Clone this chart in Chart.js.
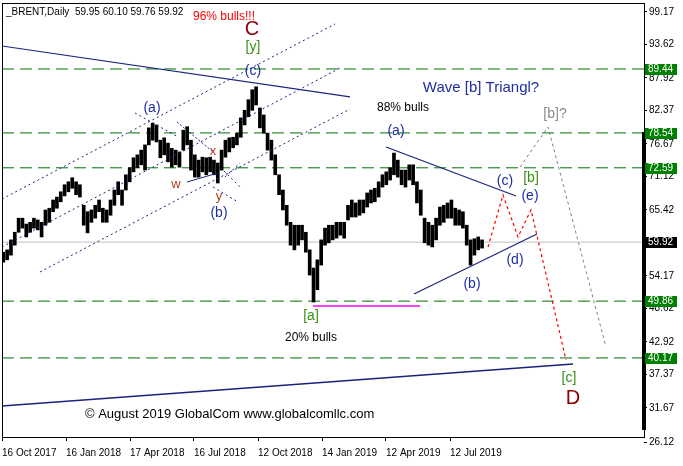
<!DOCTYPE html>
<html>
<head>
<meta charset="utf-8">
<script src="https://cdn.jsdelivr.net/npm/chart.js@4.4.0/dist/chart.umd.min.js"></script>
<style>
  html, body { margin: 0; padding: 0; background: #fff; }
  #wrap { width: 683px; height: 466px; }
</style>
</head>
<body>
<div id="wrap"><canvas id="brent" width="683" height="466"></canvas></div>
<script>
// axis
const dateTicks = [0, 64, 128, 192, 256, 320, 384, 448];
const dateLabels = ['16 Oct 2017', '16 Jan 2018', '17 Apr 2018', '16 Jul 2018', '12 Oct 2018', '14 Jan 2019', '12 Apr 2019', '12 Jul 2019'];
const priceTicks = [99.17, 93.62, 87.92, 82.37, 76.67, 71.12, 65.42, 54.17, 48.62, 42.92, 37.37, 31.67];
const levels = [89.44, 78.54, 72.59, 49.86, 40.17];
const lastPrice = 59.92;
const header = '_BRENT,Daily  59.95 60.10 59.76 59.92';

// price ranges, one sample every ~4 trading days
const firstDay = 1.3, dayStep = 3.83;
const highs = [58.2, 58.6, 60.3, 61.6, 64.0, 64.0, 63.0, 63.3, 64.0, 63.7,
  63.3, 65.4, 65.7, 67.1, 67.6, 68.5, 69.7, 70.2, 70.9, 70.2,
  69.7, 66.2, 65.1, 65.4, 66.2, 67.1, 65.7, 65.4, 67.1, 68.8,
  70.2, 68.8, 71.4, 72.6, 74.3, 74.8, 75.6, 76.5, 79.4, 80.2,
  79.9, 77.3, 77.7, 76.8, 75.9, 75.6, 75.3, 79.0, 79.6, 77.3,
  74.8, 73.9, 74.4, 74.3, 74.4, 73.9, 73.4, 75.6, 77.3, 77.7,
  77.8, 78.5, 81.1, 82.4, 84.2, 85.9, 86.4, 82.8, 81.6, 78.5,
  77.3, 74.8, 71.4, 68.8, 66.2, 63.3, 62.8, 62.8, 62.8, 61.6,
  58.6, 55.5, 56.9, 60.3, 62.3, 62.8, 62.8, 63.3, 63.3, 63.3,
  66.2, 67.1, 66.6, 67.1, 67.1, 68.3, 68.8, 69.1, 70.2, 71.4,
  71.9, 72.6, 75.1, 73.9, 72.2, 72.2, 73.1, 73.1, 70.2, 68.8,
  64.0, 63.3, 62.8, 64.0, 65.9, 66.2, 66.6, 67.1, 65.7, 65.4,
  65.1, 62.8, 60.3, 60.5, 60.8, 60.3];
const lows = [56.5, 56.9, 57.7, 59.4, 61.6, 62.3, 60.8, 61.6, 62.3, 62.0,
  60.8, 62.8, 63.3, 65.1, 65.7, 66.8, 67.8, 68.5, 69.1, 68.0,
  67.6, 62.8, 61.5, 63.3, 64.0, 65.1, 63.3, 63.3, 64.5, 66.2,
  68.0, 66.2, 68.8, 70.2, 71.9, 72.6, 73.1, 72.2, 76.5, 77.3,
  77.0, 74.3, 74.8, 73.6, 72.7, 73.1, 72.7, 75.6, 76.5, 72.2,
  71.0, 71.0, 71.9, 71.4, 71.9, 71.4, 70.0, 72.2, 74.4, 75.3,
  76.0, 76.5, 77.8, 79.9, 81.3, 82.4, 83.3, 79.4, 78.5, 75.6,
  73.9, 71.4, 68.0, 65.4, 62.8, 59.4, 58.6, 59.4, 60.3, 58.2,
  54.3, 49.7, 51.8, 56.0, 59.4, 59.8, 60.3, 60.6, 61.1, 60.6,
  63.7, 64.2, 64.2, 64.5, 64.9, 65.9, 66.6, 66.8, 67.6, 69.3,
  69.7, 70.5, 71.4, 71.0, 69.7, 69.3, 70.5, 69.7, 66.6, 64.5,
  59.8, 59.4, 59.1, 60.3, 62.8, 63.3, 64.0, 64.0, 62.8, 62.8,
  62.3, 59.4, 56.0, 57.7, 58.6, 58.9];

// hand-drawn wave lines, points as [day, price]
const trendTop = [[0, 93.36], [348, 84.67]];
const triUpper = [[384, 76.14], [514, 67.79]];
const triLower = [[412, 51.08], [535, 61.31]];
const trendLow = [[0, 31.98], [571, 39.14]];
const chanA = [[0, 67.27], [333, 97.11]];
const chanB = [[0, 59.09], [340, 89.78]];
const chanC = [[38, 54.83], [348, 82.62]];
const fanA = [[133, 81.94], [176, 77.85]];
const fanB1 = [[208, 74.43], [238, 69.32]];
const fanB2 = [[211, 69.32], [236, 66.76]];
const fanB3 = [[223, 71.03], [238, 73.41]];
const wyLine = [[185, 70.17], [216, 71.71]];
const xLine = [[175, 80.4], [211, 75.29]];
const redPath = [[486, 59.09], [501, 67.96], [516, 60.80], [529, 65.40], [564, 39.83]];
const greyPath = [[518, 72.73], [546, 79.55], [604, 42.04]];
const magenta = [[311, 49.03], [418, 49.03]];
const scaleBar = [[642, 78.7], [642, 27.9]];

const NAVY = '#1f2f9f';
const GREEN = '#3a8f17';
const notes = [
  ['96% bulls!!!', 222, 98.30, '#ff0000', 12],
  ['C', 250, 96.09, '#8b0000', 20],
  ['[y]', 251, 93.19, GREEN, 14],
  ['(c)', 251, 89.10, NAVY, 14],
  ['(a)', 150, 82.79, NAVY, 14],
  ['x', 211, 75.46, '#c0392b', 13],
  ['w', 174, 69.83, '#b0402a', 13],
  ['y', 217, 67.79, '#b0402a', 13],
  ['(b)', 217, 64.89, NAVY, 14],
  ['Wave [b] Triangl?', 479, 86.20, NAVY, 15],
  ['88% bulls', 401, 82.79, '#000', 12],
  ['(a)', 394, 78.87, NAVY, 14],
  ['(c)', 503, 70.34, NAVY, 14],
  ['[b]', 529, 70.86, GREEN, 14],
  ['(e)', 528, 67.79, NAVY, 14],
  ['(d)', 513, 56.87, NAVY, 14],
  ['(b)', 470, 52.78, NAVY, 14],
  ['[b]?', 553, 81.77, '#8c8c8c', 14],
  ['[a]', 309, 47.33, GREEN, 14],
  ['20% bulls', 309, 43.58, '#000', 12],
  ['[c]', 567, 36.76, GREEN, 14],
  ['D', 571, 33.18, '#8b0000', 20]
];
const credit = ['\u00A9 August 2019 GlobalCom www.globalcomllc.com', 83, 30.62];

const FONT = '"Liberation Sans", Arial, sans-serif';

function line(pts, color, width, dash, order) {
  return {
    type: 'line',
    data: pts.map(p => ({x: p[0], y: p[1]})),
    borderColor: color,
    borderWidth: width,
    borderDash: dash || [],
    pointRadius: 0,
    fill: false,
    tension: 0,
    order: order || 1
  };
}

const datasets = [];
datasets.push({
  type: 'bar',
  data: highs.map((h, i) => ({x: firstDay + i * dayStep, y: [lows[i], h]})),
  backgroundColor: '#000',
  borderWidth: 0,
  barThickness: 3,
  order: 5
});
levels.forEach(v => datasets.push(line([[0, v], [642, v]], '#007000', 1, [12, 6], 6)));
datasets.push(line([[0, lastPrice], [642, lastPrice]], '#c0c0c0', 1, [], 7));
datasets.push(line(trendTop, '#1a237e', 1.2));
datasets.push(line(triUpper, '#1a237e', 1.2));
datasets.push(line(triLower, '#1a237e', 1.2));
datasets.push(line(trendLow, '#1a237e', 1.5));
[chanA, chanB, chanC, fanA, fanB1, fanB2, fanB3].forEach(p => datasets.push(line(p, '#1a237e', 1, [2, 3])));
datasets.push(line(wyLine, '#1a237e', 1));
datasets.push(line(xLine, '#1a237e', 1, [2, 2]));
datasets.push(line(redPath, '#ff0000', 1.2, [3, 3]));
datasets.push(line(greyPath, '#808080', 1, [3, 3]));
datasets.push(line(magenta, '#ff00ff', 1.5));
const bar = line(scaleBar, '#000', 4);
bar.clip = false;
datasets.push(bar);

function noPad(s) {
  s.paddingLeft = 0; s.paddingRight = 0; s.paddingTop = 0; s.paddingBottom = 0;
}

const overlay = {
  id: 'overlay',
  afterDraw(chart) {
    const {ctx, chartArea: a, scales: {x, y}} = chart;
    ctx.save();
    // frame
    ctx.strokeStyle = '#000';
    ctx.lineWidth = 1;
    ctx.strokeRect(a.left + 0.5, a.top + 0.5, a.right - a.left, a.bottom - a.top);
    // header
    ctx.fillStyle = '#000';
    ctx.font = '10px ' + FONT;
    ctx.textAlign = 'left';
    ctx.textBaseline = 'middle';
    ctx.fillText(header, a.left + 4, a.top + 9);
    // wave labels
    ctx.textAlign = 'center';
    notes.forEach(n => {
      ctx.fillStyle = n[3];
      ctx.font = n[4] + 'px ' + FONT;
      ctx.fillText(n[0], x.getPixelForValue(n[1]), y.getPixelForValue(n[2]));
    });
    ctx.textAlign = 'left';
    ctx.fillStyle = '#000';
    ctx.font = '13px ' + FONT;
    ctx.fillText(credit[0], x.getPixelForValue(credit[1]), y.getPixelForValue(credit[2]));
    // bottom price label
    ctx.font = '10px ' + FONT;
    const yb = Math.round(y.getPixelForValue(26.12)) + 2;
    ctx.beginPath();
    ctx.moveTo(a.right, yb + 0.5); ctx.lineTo(a.right + 3, yb + 0.5); ctx.stroke();
    ctx.fillText('26.12', a.right + 5, yb);
    // level boxes
    const box = (v, bg) => {
      const py = Math.round(y.getPixelForValue(v));
      ctx.fillStyle = bg;
      ctx.fillRect(a.right + 1, py - 5, 32, 11);
      ctx.fillStyle = '#fff';
      ctx.fillText(v.toFixed(2), a.right + 4, py + 0.5);
    };
    levels.forEach(v => box(v, '#008000'));
    box(lastPrice, '#000');
    ctx.restore();
  }
};

new Chart(document.getElementById('brent'), {
  type: 'bar',
  data: {datasets},
  options: {
    responsive: false,
    devicePixelRatio: 1,
    animation: false,
    events: [],
    layout: {padding: {left: 2, top: 3, right: 0, bottom: 0}},
    plugins: {legend: {display: false}, tooltip: {enabled: false}},
    scales: {
      x: {
        type: 'linear', min: 0, max: 642, offset: false,
        afterBuildTicks: s => { s.ticks = dateTicks.map(v => ({value: v})); },
        afterFit: s => { s.height = 29; noPad(s); },
        grid: {drawOnChartArea: false, offset: false, tickLength: 4, color: '#000'},
        border: {color: '#000'},
        ticks: {
          align: 'start', maxRotation: 0, minRotation: 0, autoSkip: false, padding: 6,
          color: '#000', font: {family: FONT, size: 10},
          callback: (v, i) => dateLabels[i]
        }
      },
      y: {
        type: 'linear', position: 'right', min: 26.69, max: 100.69,
        afterBuildTicks: s => { s.ticks = priceTicks.map(v => ({value: v})); },
        afterFit: s => { s.width = 39; noPad(s); },
        grid: {drawOnChartArea: false, tickLength: 3, color: '#000'},
        border: {color: '#000'},
        ticks: {
          autoSkip: false, padding: 2, color: '#000', font: {family: FONT, size: 10},
          callback: v => v.toFixed(2)
        }
      }
    }
  },
  plugins: [overlay]
});
</script>
</body>
</html>
